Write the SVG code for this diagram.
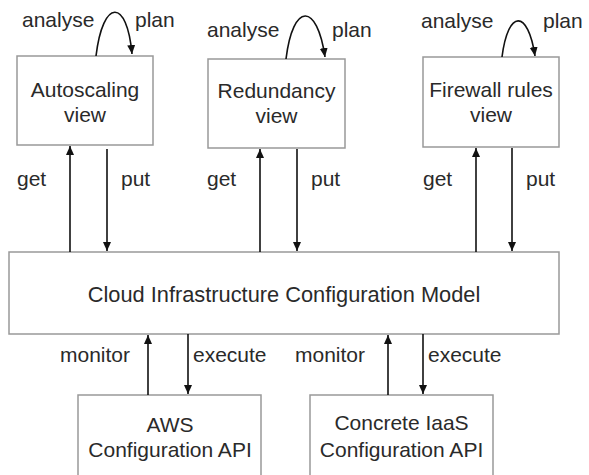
<svg xmlns="http://www.w3.org/2000/svg" width="589" height="475" viewBox="0 0 589 475">
<style>
.box{fill:#fff;stroke:#999;stroke-width:1.5}
.t{font-family:"Liberation Sans",Arial,sans-serif;font-size:21px;fill:#2a2a2a}
.c{text-anchor:middle}
.m{font-size:21.8px}
.a{fill:none;stroke:#111;stroke-width:1.6;marker-end:url(#ah)}
</style>
<defs>
<marker id="ah" markerUnits="userSpaceOnUse" markerWidth="10" markerHeight="10" refX="9" refY="4" orient="auto">
<path d="M0,0 L9,4 L0,8 Z" fill="#111"/>
</marker>
</defs>
<rect width="589" height="475" fill="#fff"/>
<g id="autoscaling">
<rect class="box" x="17" y="56" width="136" height="89"/>
<text class="t c" x="85" y="97">Autoscaling</text>
<text class="t c" x="85" y="122">view</text>
</g>
<g id="redundancy">
<rect class="box" x="208" y="59" width="137" height="89"/>
<text class="t c" x="276.5" y="98">Redundancy</text>
<text class="t c" x="276.5" y="123">view</text>
</g>
<g id="firewall">
<rect class="box" x="423" y="57" width="136" height="90"/>
<text class="t c" x="491" y="97">Firewall rules</text>
<text class="t c" x="491" y="122">view</text>
</g>
<g id="model">
<rect class="box" x="9" y="252" width="550" height="82"/>
<text class="t c m" x="284" y="302">Cloud Infrastructure Configuration Model</text>
</g>
<g id="aws">
<rect class="box" x="78" y="395" width="183" height="100"/>
<text class="t c" x="170" y="432">AWS</text>
<text class="t c" x="170" y="457">Configuration API</text>
</g>
<g id="concrete">
<rect class="box" x="310" y="395" width="183" height="100"/>
<text class="t c" x="401.5" y="430">Concrete IaaS</text>
<text class="t c" x="401.5" y="457">Configuration API</text>
</g>
<g id="connectors">
<path class="a" d="M96,56 C103,-2 127,-2 132,54"/>
<path class="a" d="M286,59 C293,2 317,2 325,57"/>
<path class="a" d="M502,57 C508,9 528,9 535,56"/>
<path class="a" d="M70,252 L70,146"/>
<path class="a" d="M107,149 L107,251"/>
<path class="a" d="M260,252 L260,149"/>
<path class="a" d="M297,149 L297,251"/>
<path class="a" d="M476,252 L476,148"/>
<path class="a" d="M512,148 L512,251"/>
<path class="a" d="M148,395 L148,335"/>
<path class="a" d="M188,334 L188,394"/>
<path class="a" d="M388,395 L388,335"/>
<path class="a" d="M423,334 L423,394"/>
<text class="t" x="22" y="27">analyse</text>
<text class="t" x="135" y="27">plan</text>
<text class="t" x="207" y="37">analyse</text>
<text class="t" x="332" y="37">plan</text>
<text class="t" x="421" y="28">analyse</text>
<text class="t" x="543" y="28">plan</text>
<text class="t" x="17" y="186">get</text>
<text class="t" x="121" y="186">put</text>
<text class="t" x="207" y="186">get</text>
<text class="t" x="311" y="186">put</text>
<text class="t" x="423" y="186">get</text>
<text class="t" x="526" y="186">put</text>
<text class="t" x="60" y="362">monitor</text>
<text class="t" x="193" y="362">execute</text>
<text class="t" x="295" y="362">monitor</text>
<text class="t" x="428" y="362">execute</text>
</g>
</svg>
